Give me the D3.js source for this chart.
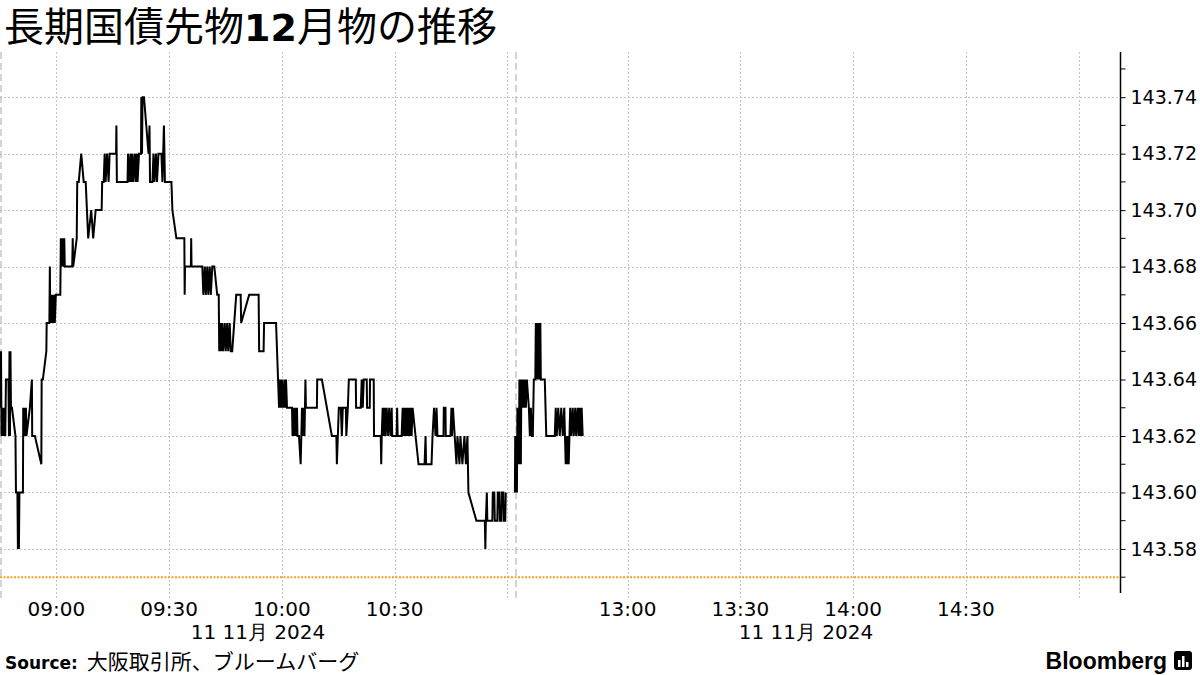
<!DOCTYPE html>
<html><head><meta charset="utf-8">
<script src="https://cdn.jsdelivr.net/npm/d3@7"></script>
<style>body{margin:0;background:#fff}svg{display:block}</style>
</head><body><svg id="c" width="1200" height="675"></svg>
<script>
// ---- data ----
const titleParts = ["長期国債先物", "12", "月物の推移"];
const dateStr = "2024-11-11";
const dateLabel = "11 11月 2024";
const sourceLabel = "Source:";
const sourceText = "大阪取引所、ブルームバーグ";
const sessionEdges = ["08:45:00", "11:02:00", "12:30:00", "15:11:00"];
const xTickLabels = ["09:00", "09:30", "10:00", "10:30", "13:00", "13:30", "14:00", "14:30"];
const xGridTimes = ["09:00", "09:30", "10:00", "10:30", "11:00", "13:00", "13:30", "14:00", "14:30", "15:00"];
const yTickValues = [143.58, 143.60, 143.62, 143.64, 143.66, 143.68, 143.70, 143.72, 143.74];
const yMinorValues = [143.57, 143.59, 143.61, 143.63, 143.65, 143.67, 143.69, 143.71, 143.73, 143.75];
const yDomain = [143.5644, 143.756];
const refLevel = 143.57;

const times = [
"08:45:08","08:45:16","08:45:24","08:45:37","08:45:45","08:45:56","08:46:04","08:46:16","08:46:24","08:46:35",
"08:47:15","08:47:23","08:47:31","08:47:39","08:47:47","08:47:55","08:48:11","08:49:07","08:49:15","08:49:38",
"08:49:46","08:49:54","08:50:02","08:50:10","08:51:06","08:51:11","08:51:22","08:51:30","08:51:46","08:51:54",
"08:52:02","08:52:57","08:53:29","08:53:34","08:54:17","08:56:00","08:56:05","08:56:24","08:57:20","08:57:25",
"08:58:08","08:58:16","08:58:23","08:58:39","08:58:47","08:59:03","08:59:11","08:59:27","08:59:35","08:59:51",
"09:01:03","09:01:11","09:01:18","09:01:26","09:01:34","09:01:42","09:01:58","09:02:06","09:02:14","09:04:13",
"09:04:21","09:04:29","09:05:25","09:05:33","09:05:57","09:06:37","09:07:16","09:07:48","09:08:28","09:09:16",
"09:09:48","09:10:27","09:12:03","09:12:11","09:12:35","09:12:51","09:13:06","09:13:30","09:13:54","09:14:10",
"09:15:53","09:15:58","09:16:06","09:18:56","09:19:04","09:19:20","09:19:44","09:19:52","09:20:16","09:20:24",
"09:20:56","09:21:04","09:21:28","09:21:36","09:21:59","09:22:31","09:22:36","09:22:47","09:22:55","09:23:19",
"09:24:31","09:24:47","09:24:55","09:25:34","09:25:50","09:26:06","09:26:30","09:26:46","09:27:10","09:27:57",
"09:28:13","09:28:37","09:28:53","09:30:37","09:30:52","09:31:56","09:34:03","09:34:08","09:34:14","09:35:47",
"09:35:52","09:35:58","09:38:50","09:39:06","09:39:30","09:39:45","09:40:09","09:40:25","09:40:49","09:41:05",
"09:41:29","09:42:01","09:42:48","09:43:12","09:43:20","09:43:36","09:43:52","09:44:08","09:44:24","09:44:48",
"09:45:04","09:45:27","09:45:43","09:46:07","09:46:23","09:46:47","09:47:51","09:49:02","09:49:10","09:51:18",
"09:53:49","09:53:57","09:55:08","09:55:16","09:58:27","09:58:59","09:59:15","09:59:31","09:59:47","10:00:03",
"10:00:18","10:00:42","10:00:50","10:01:06","10:01:22","10:02:42","10:02:50","10:03:05","10:03:13","10:03:29",
"10:03:37","10:04:01","10:04:09","10:04:33","10:05:00","10:05:21","10:05:29","10:05:53","10:06:01","10:06:16",
"10:06:24","10:09:19","10:09:24","10:10:39","10:13:18","10:14:30","10:14:38","10:15:09","10:15:41","10:15:57",
"10:16:13","10:17:01","10:17:09","10:17:33","10:17:49","10:19:40","10:19:45","10:20:59","10:21:15","10:21:31",
"10:21:47","10:22:35","10:22:40","10:23:23","10:23:27","10:24:26","10:24:31","10:26:18","10:26:26","10:26:34",
"10:26:49","10:27:05","10:27:21","10:27:37","10:27:53","10:28:17","10:28:33","10:28:57","10:29:13","10:29:21",
"10:30:32","10:30:40","10:30:48","10:31:52","10:32:08","10:32:24","10:32:39","10:32:55","10:33:11","10:33:27",
"10:33:43","10:33:59","10:34:15","10:34:31","10:34:47","10:35:34","10:36:22","10:37:58","10:38:14","10:38:22",
"10:39:49","10:40:05","10:40:29","10:40:53","10:41:09","10:41:24","10:43:00","10:43:05","10:43:32","10:43:36",
"10:44:51","10:45:07","10:45:15","10:45:31","10:46:27","10:46:43","10:47:15","10:47:30","10:48:02","10:48:34",
"10:48:58","10:49:22","10:49:38","10:51:45","10:54:00","10:54:08","10:54:16","10:54:32","10:54:40","10:56:00",
"10:56:07","10:56:31","10:56:39","10:57:19","10:57:27","10:57:51","10:57:59","10:58:23","10:58:31","10:58:55",
"10:59:03","10:59:26","10:59:34",
"12:30:00","12:30:05","12:30:10","12:30:16","12:30:21","12:30:27","12:30:32","12:30:40","12:30:48","12:30:56",
"12:31:04","12:31:12","12:31:20","12:31:28","12:31:35","12:31:43","12:31:51","12:32:07","12:32:23","12:32:39",
"12:32:55","12:33:11","12:33:43","12:33:59","12:34:15","12:34:30","12:34:46","12:35:02","12:35:26","12:35:34",
"12:35:42","12:35:50","12:35:58","12:36:06","12:36:14","12:36:22","12:36:30","12:36:46","12:36:54","12:37:57",
"12:38:21","12:40:36","12:40:52","12:41:08","12:41:32","12:41:56","12:42:20","12:42:44","12:43:08","12:43:31",
"12:43:47","12:43:55","12:44:11","12:44:19","12:44:43","12:44:59","12:45:23","12:45:39","12:46:03","12:46:18",
"12:46:42","12:46:58","12:47:14","12:47:30","12:47:46","12:48:02"
];
const prices = [
143.63,143.65,143.62,143.63,143.62,143.63,143.62,143.63,143.62,143.64,
143.64,143.62,143.65,143.62,143.65,143.63,143.63,143.62,143.60,143.60,
143.58,143.60,143.58,143.60,143.60,143.63,143.62,143.63,143.62,143.63,
143.62,143.63,143.64,143.62,143.62,143.61,143.64,143.64,143.65,143.66,
143.66,143.68,143.66,143.67,143.66,143.67,143.66,143.67,143.66,143.67,
143.67,143.69,143.68,143.69,143.68,143.69,143.68,143.69,143.68,143.68,
143.69,143.68,143.69,143.71,143.71,143.72,143.71,143.71,143.69,143.70,
143.69,143.70,143.70,143.71,143.71,143.72,143.71,143.72,143.71,143.72,
143.72,143.73,143.71,143.71,143.72,143.71,143.72,143.71,143.72,143.71,
143.72,143.71,143.72,143.71,143.72,143.72,143.74,143.72,143.74,143.74,
143.72,143.73,143.71,143.71,143.72,143.71,143.72,143.71,143.72,143.72,
143.71,143.73,143.71,143.71,143.70,143.69,143.69,143.67,143.68,143.68,
143.69,143.68,143.68,143.67,143.68,143.67,143.68,143.67,143.68,143.67,
143.68,143.68,143.67,143.67,143.65,143.66,143.65,143.66,143.65,143.66,
143.65,143.66,143.65,143.66,143.65,143.65,143.67,143.67,143.66,143.67,
143.67,143.65,143.65,143.66,143.66,143.64,143.63,143.64,143.63,143.64,
143.63,143.64,143.63,143.64,143.63,143.63,143.62,143.63,143.62,143.63,
143.62,143.63,143.62,143.62,143.61,143.63,143.62,143.63,143.62,143.64,
143.63,143.63,143.64,143.64,143.62,143.62,143.61,143.63,143.63,143.62,
143.63,143.63,143.62,143.63,143.64,143.64,143.63,143.63,143.64,143.63,
143.64,143.64,143.63,143.63,143.64,143.64,143.62,143.62,143.61,143.62,
143.63,143.62,143.63,143.62,143.63,143.62,143.63,143.62,143.63,143.62,
143.62,143.63,143.62,143.62,143.63,143.62,143.63,143.62,143.63,143.62,
143.63,143.62,143.63,143.62,143.63,143.62,143.61,143.61,143.62,143.61,
143.61,143.62,143.63,143.62,143.63,143.62,143.62,143.63,143.63,143.62,
143.62,143.63,143.62,143.63,143.61,143.62,143.61,143.62,143.61,143.62,
143.61,143.62,143.60,143.59,143.59,143.58,143.59,143.60,143.59,143.59,
143.60,143.60,143.59,143.59,143.60,143.60,143.59,143.59,143.60,143.60,
143.59,143.59,143.60,
143.60,143.62,143.60,143.62,143.60,143.62,143.60,143.63,143.62,143.63,
143.61,143.64,143.62,143.64,143.61,143.64,143.63,143.64,143.63,143.64,
143.63,143.64,143.63,143.62,143.63,143.62,143.62,143.64,143.64,143.66,
143.64,143.66,143.65,143.66,143.64,143.66,143.64,143.66,143.64,143.64,
143.62,143.62,143.63,143.62,143.63,143.62,143.63,143.62,143.63,143.61,
143.62,143.61,143.62,143.61,143.63,143.62,143.63,143.62,143.63,143.62,
143.63,143.62,143.63,143.62,143.63,143.62
];

// ---- chart ----
const svg = d3.select("#c");
const parse = d3.timeParse("%Y-%m-%d %H:%M:%S");
const T = s => parse(dateStr + " " + (s.length === 5 ? s + ":00" : s));

const plotL = 0, plotR = 1120, plotT = 52, plotB = 593;
const edges = sessionEdges.map(T);
const amMin = (edges[1] - edges[0]) / 60000, pmMin = (edges[3] - edges[2]) / 60000;
const breakX = plotL + (plotR - plotL) * amMin / (amMin + pmMin);
const x = d3.scaleTime().domain(edges).range([plotL, breakX, breakX, plotR]);
const y = d3.scaleLinear().domain(yDomain).range([plotB, plotT]);

const data = times.map((t, i) => ({t: T(t), v: prices[i]}));
const am = data.filter(d => d.t < edges[1]);
const pm = data.filter(d => d.t >= edges[2]);

const numFont = "'DejaVu Sans', sans-serif";
const jpFont = "'Noto Sans CJK JP', sans-serif";

// grid
const g = svg.append("g");
g.selectAll(".hg").data(yTickValues).join("line")
  .attr("x1", plotL).attr("x2", plotR)
  .attr("y1", d => Math.round(y(d)) + 0.5).attr("y2", d => Math.round(y(d)) + 0.5)
  .attr("stroke", "#c4c4c4").attr("stroke-width", 1).attr("stroke-dasharray", "2,2");
g.selectAll(".vg").data(xGridTimes.map(T)).join("line")
  .attr("x1", d => Math.round(x(d)) + 0.5).attr("x2", d => Math.round(x(d)) + 0.5)
  .attr("y1", plotT).attr("y2", plotB + 5)
  .attr("stroke", "#c4c4c4").attr("stroke-width", 1).attr("stroke-dasharray", "2,2");
// session boundaries
g.selectAll(".sb").data([edges[0], edges[2]]).join("line")
  .attr("x1", d => Math.round(x(d)) + 1).attr("x2", d => Math.round(x(d)) + 1)
  .attr("y1", plotT).attr("y2", plotB + 5)
  .attr("stroke", "#b8b8b8").attr("stroke-width", 1.2).attr("stroke-dasharray", "7,4");
// reference level
g.append("line").attr("x1", plotL).attr("x2", plotR)
  .attr("y1", y(refLevel)).attr("y2", y(refLevel))
  .attr("stroke", "#f0a31e").attr("stroke-width", 2).attr("stroke-dasharray", "2,1.5");

// lines
const line = d3.line().x(d => x(d.t)).y(d => y(d.v));
[am, pm].forEach(s => svg.append("path").datum(s).attr("d", line)
  .attr("fill", "none").attr("stroke", "#000").attr("stroke-width", 2).attr("stroke-linejoin", "miter"));

// y axis (right)
const ax = svg.append("g").attr("transform", `translate(${plotR + 0.5},0)`);
ax.append("line").attr("y1", plotT).attr("y2", plotB).attr("stroke", "#000").attr("stroke-width", 1.5);
ax.selectAll(".mt").data(yMinorValues).join("line")
  .attr("x1", 0).attr("x2", 5).attr("y1", d => y(d)).attr("y2", d => y(d)).attr("stroke", "#000");
const yAxis = d3.axisRight(y).tickValues(yTickValues).tickSize(5).tickPadding(5).tickFormat(d3.format(".2f"));
const yg = ax.append("g").call(yAxis);
yg.select(".domain").remove();
yg.selectAll("line").attr("stroke", "#000");
yg.selectAll("text").attr("font-family", numFont).attr("font-size", 19).attr("fill", "#000");

// x labels
svg.selectAll(".xl").data(xTickLabels).join("text")
  .attr("x", d => x(T(d))).attr("y", 616).attr("text-anchor", "middle")
  .attr("font-family", numFont).attr("font-size", 20).attr("fill", "#000").text(d => d);
svg.selectAll(".dl").data([258, 806]).join("text")
  .attr("x", d => d).attr("y", 639).attr("text-anchor", "middle")
  .attr("font-family", numFont).attr("font-size", 20).attr("fill", "#000").text(dateLabel);

// title
const tt = svg.append("text").attr("x", 4).attr("y", 41).attr("fill", "#000");
tt.append("tspan").attr("font-family", jpFont).attr("font-size", 40).text(titleParts[0]);
tt.append("tspan").attr("font-family", numFont).attr("font-weight", "bold").attr("font-size", 38).text(titleParts[1]);
tt.append("tspan").attr("font-family", jpFont).attr("font-size", 40).text(titleParts[2]);

// footer
const ft = svg.append("text").attr("x", 5).attr("y", 669).attr("fill", "#000");
ft.append("tspan").attr("font-family", numFont).attr("font-weight", "bold").attr("font-size", 17).text(sourceLabel);
ft.append("tspan").attr("dx", 9).attr("font-family", jpFont).attr("font-size", 21).text(sourceText);

svg.append("text").attr("x", 1167).attr("y", 669).attr("text-anchor", "end")
  .attr("font-family", "'Liberation Sans', Arial, sans-serif").attr("font-weight", "bold")
  .attr("font-size", 23).attr("fill", "#000").text("Bloomberg");
const logo = svg.append("g").attr("transform", "translate(1174,651)");
logo.append("rect").attr("width", 18).attr("height", 19).attr("rx", 3).attr("fill", "#000");
[[4,9,2.5],[8,5,2.5],[12,11,2.5]].forEach(([bx, by, bw]) =>
  logo.append("rect").attr("x", bx).attr("y", by).attr("width", bw).attr("height", 16 - by).attr("fill", "#fff"));
</script></body></html>
